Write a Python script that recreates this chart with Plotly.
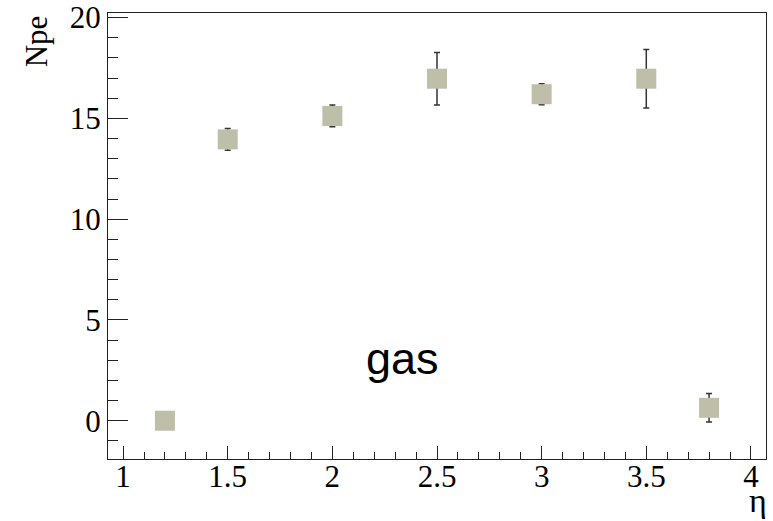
import plotly.graph_objects as go

eta = [1.2, 1.5, 2.0, 2.5, 3.0, 3.5, 3.8]
npe = [0.0, 13.96, 15.12, 16.97, 16.2, 16.97, 0.64]
npe_err = [0.0, 0.54, 0.54, 1.3, 0.52, 1.45, 0.71]

x_ticks = [1, 1.5, 2, 2.5, 3, 3.5, 4]
x_ticklabels = ["1", "1.5", "2", "2.5", "3", "3.5", "4"]
y_ticks = [0, 5, 10, 15, 20]
y_ticklabels = ["0", "5", "10", "15", "20"]

serif = "Liberation Serif, Times New Roman, serif"
sans = "Liberation Sans, Arial, sans-serif"

fig = go.Figure()
fig.add_trace(go.Scatter(
    x=eta, y=npe, mode="markers",
    marker=dict(symbol="square", size=20, color="rgb(191,191,169)", line=dict(width=0)),
    error_y=dict(type="data", array=npe_err, visible=True, color="#333333", thickness=1.5, width=3),
    showlegend=False,
))

axis_common = dict(
    showline=True, linecolor="#222222", linewidth=1, mirror=True,
    ticks="inside", tickcolor="#222222", tickwidth=1,
    showgrid=False, zeroline=False, automargin=False,
    tickfont=dict(family=serif, size=31, color="black"),
)

fig.update_xaxes(
    range=[0.928, 4.072], tickvals=x_ticks, ticktext=x_ticklabels, ticklen=13,
    ticklabelstandoff=-10,
    minor=dict(dtick=0.1, tick0=0, ticks="inside", ticklen=7, tickcolor="#222222", tickwidth=1),
    **axis_common,
)
fig.update_yaxes(
    range=[-1.9, 20.23], tickvals=y_ticks, ticktext=y_ticklabels, ticklen=20,
    minor=dict(dtick=1, tick0=0, ticks="inside", ticklen=10, tickcolor="#222222", tickwidth=1),
    **axis_common,
)

fig.add_annotation(
    text="Npe", textangle=-90, xref="paper", yref="paper",
    x=-0.109, y=1.0, xanchor="center", yanchor="top", showarrow=False,
    font=dict(family=serif, size=31, color="black"),
)
fig.add_annotation(
    text="η", xref="paper", yref="paper",
    x=1.004, y=-0.139, xanchor="right", yanchor="bottom", showarrow=False,
    font=dict(family=serif, size=34, color="black"),
)
fig.add_annotation(
    text="gas", xref="x", yref="y",
    x=2.336, y=3.1, xanchor="center", yanchor="middle", showarrow=False,
    font=dict(family=sans, size=45, color="black"),
)

fig.update_layout(
    width=773, height=521,
    margin=dict(l=108, r=7, t=13, b=62),
    paper_bgcolor="white", plot_bgcolor="white",
)

fig.write_html("out.html")
